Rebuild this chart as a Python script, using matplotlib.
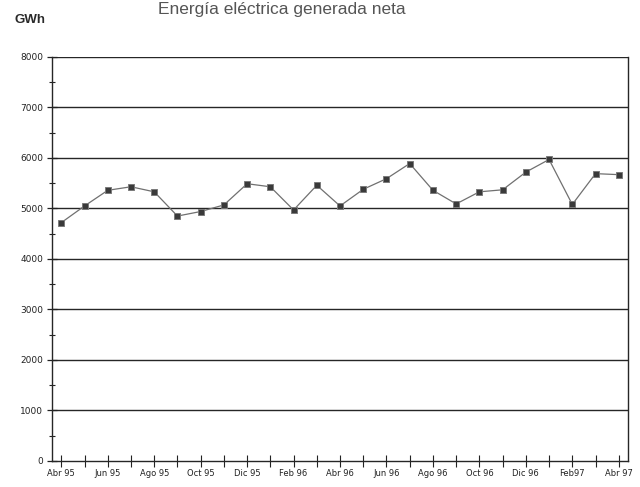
import matplotlib
matplotlib.use("Agg")
import matplotlib.pyplot as plt
from matplotlib.ticker import MultipleLocator, FixedLocator

# Monthly net generated electricity, April 1995 - April 1997 (GWh)
months = ["Abr 95", "May 95", "Jun 95", "Jul 95", "Ago 95", "Sep 95", "Oct 95",
          "Nov 95", "Dic 95", "Ene 96", "Feb 96", "Mar 96", "Abr 96", "May 96",
          "Jun 96", "Jul 96", "Ago 96", "Sep 96", "Oct 96", "Nov 96", "Dic 96",
          "Ene 97", "Feb97", "Mar 97", "Abr 97"]
energia = [4720, 5050, 5360, 5430, 5330, 4850, 4940, 5070, 5490, 5430, 4970,
           5460, 5050, 5380, 5590, 5890, 5360, 5090, 5330, 5370, 5720, 5970,
           5080, 5690, 5670]
y_ticks = [0, 1000, 2000, 3000, 4000, 5000, 6000, 7000, 8000]

fig = plt.figure(figsize=(6.4, 4.87), dpi=100)
ax = fig.add_axes([0.0813, 0.0534, 0.900, 0.8296])

x = list(range(len(months)))
ax.plot(x, energia, color="#707070", lw=0.9, zorder=3,
        marker="s", ms=4.8, mfc="#3a3a3a", mec="#7a7a7a", mew=0.7)

ax.set_xlim(-0.4, 24.4)
ax.set_ylim(0, 8000)

ax.yaxis.set_major_locator(FixedLocator(y_ticks))
ax.yaxis.set_minor_locator(MultipleLocator(500))
ax.set_yticklabels([str(v) for v in y_ticks], fontsize=6.5, color="#222222")
for v in y_ticks[1:]:
    ax.axhline(v, color="#262626", lw=1.0, zorder=1)

ax.set_xticks(x)
ax.set_xticklabels([m if i % 2 == 0 else "" for i, m in enumerate(months)],
                   fontsize=6.0, color="#222222")

ax.tick_params(axis="y", which="major", direction="inout", length=7, width=0.9,
               color="#222222", pad=3)
ax.tick_params(axis="y", which="minor", direction="inout", length=4, width=0.8,
               color="#222222")
ax.tick_params(axis="x", which="major", direction="inout", length=8, width=0.8,
               color="#222222", pad=2)

for side in ["left", "bottom", "right"]:
    ax.spines[side].set_color("#262626")
    ax.spines[side].set_linewidth(1.0)
ax.spines["top"].set_visible(False)

fig.text(0.44, 0.972, "Energía eléctrica generada neta", ha="center",
         va="baseline", fontsize=12.5, color="#555555", family="Liberation Sans")
fig.text(0.023, 0.953, "GWh", ha="left", va="baseline", fontsize=9.5,
         color="#2a2a2a", fontweight="bold", family="Liberation Sans")

fig.savefig("out.png", dpi=100, facecolor="white")
